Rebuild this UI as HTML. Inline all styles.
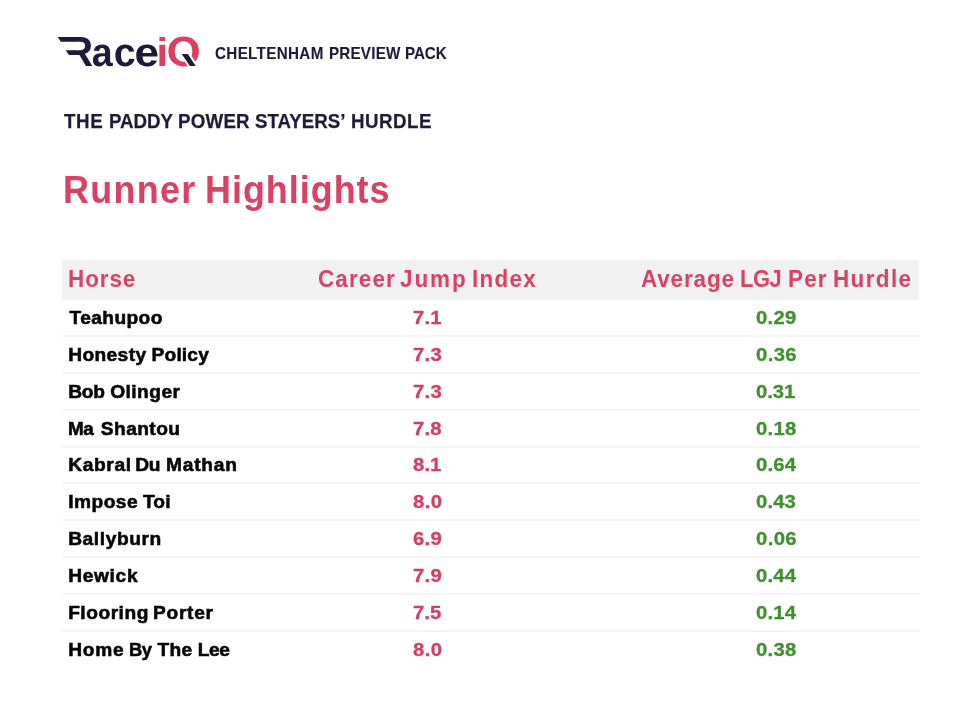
<!DOCTYPE html>
<html lang="en"><head><meta charset="utf-8"><title>RaceiQ Cheltenham Preview Pack</title>
<style>
*{margin:0;padding:0;box-sizing:border-box}
html,body{width:954px;height:718px;background:#fff;overflow:hidden}
body{font-family:"Liberation Sans",sans-serif;position:relative;color:#1e1b3a}
.abs{position:absolute;left:0;white-space:nowrap;line-height:1;margin:0}
.abs span{position:absolute;top:0;transform-origin:0 0}
.logo{position:absolute;left:50px;top:30px;width:160px;height:40px;overflow:visible}
.logo text{text-rendering:geometricPrecision;font-family:"Liberation Sans",sans-serif;font-weight:700;font-size:40px}
.t1{font-weight:700;font-size:17.1px;color:#1e1b3a;-webkit-text-stroke:0.12px #1e1b3a}
.t1 span{transform:scaleX(0.89);}
.t2{font-weight:700;font-size:21.05px;color:#1e1b3a;-webkit-text-stroke:0.25px #1e1b3a}
.t2 span{transform:scaleX(0.89);}
.t3{font-weight:700;font-size:39px;color:#d94263}
.t3 span{transform:scaleX(0.92);}
.hdr{position:absolute;left:62px;top:260px;width:856.5px;height:39.7px;background:#f1f1f1}
.th{font-weight:700;font-size:24.4px;color:#d94263}
.th span{transform:scaleX(0.92);}
.row{position:absolute;left:62px;width:858px;height:2px;background:#f4f4f4}
.nm{font-weight:700;font-size:19.15px;color:#050505;-webkit-text-stroke:0.6px #050505}
.v1{font-weight:700;font-size:19.15px;color:#d33f61;-webkit-text-stroke:0.3px #d33f61}
.v2{font-weight:700;font-size:19.15px;color:#409030;-webkit-text-stroke:0.3px #409030}
.v1 span,.v2 span{transform:scaleX(1.06);}
</style></head>
<body>
<svg class="logo" viewBox="50 30 160 40" role="img" aria-label="RaceiQ">
  <title>RaceiQ</title>
  <defs>
    <clipPath id="rclip"><rect x="74" y="30" width="30" height="40"/></clipPath>
    <clipPath id="qclip"><ellipse cx="183.7" cy="51.3" rx="15.7" ry="15.3"/></clipPath>
  </defs>
  <polygon points="57.7,37 75,37 75,41.75 60.7,41.75" fill="#1e1b3a"/>
  <polygon points="65.7,50.3 75,50.3 75,55.05 68.9,55.05" fill="#1e1b3a"/>
  <g clip-path="url(#rclip)"><text transform="translate(64.2,66) scale(1,1.0545)" fill="#1e1b3a">R</text></g>
  <text transform="translate(91.82,65.6) scale(0.941,1)" fill="#1e1b3a">a</text>
  <text transform="translate(113.82,65.6) scale(0.985,1)" fill="#1e1b3a">c</text>
  <text transform="translate(134.55,65.6) scale(1.101,1)" fill="#1e1b3a">e</text>
  <text transform="translate(156.45,65.6) scale(1.036,1)" fill="#de3f5f">i</text>
  <g clip-path="url(#qclip)"><text transform="translate(166.6,65.6) scale(1.1,1.058)" fill="#de3f5f">Q</text></g>
  <polygon points="178.4,52 188.9,52 199.5,68 189,68" fill="#fff"/>
  <polygon points="181.7,54 187.8,54 195.7,65.9 189.9,65.9" fill="#1e1b3a"/>
</svg>
<div class="abs t1" style="top:44.50px"><span style="left:215.14px;letter-spacing:0.372px">CHELTENHAM</span> <span style="left:328.98px;letter-spacing:0.221px">PREVIEW</span> <span style="left:404.98px;letter-spacing:-0.102px">PACK</span></div>
<h2 class="abs t2" style="top:110.30px"><span style="left:63.88px;letter-spacing:0.727px">THE</span> <span style="left:108.84px;letter-spacing:-0.066px">PADDY</span> <span style="left:177.82px;letter-spacing:0.247px">POWER</span> <span style="left:254.99px;letter-spacing:-0.009px">STAYERS’</span> <span style="left:350.82px;letter-spacing:0.557px">HURDLE</span></h2>
<h1 class="abs t3" style="top:170.31px"><span style="left:62.96px;letter-spacing:1.427px">Runner</span> <span style="left:204.72px;letter-spacing:1.100px">Highlights</span></h1>
<div class="table" role="table">
<div class="thead" role="row"><div class="hdr"></div>
<div class="abs th" style="top:267.21px"><span style="left:67.85px;letter-spacing:1.014px">Horse</span></div>
<div class="abs th" style="top:267.21px"><span style="left:317.98px;letter-spacing:1.237px">Career</span> <span style="left:399.94px;letter-spacing:2.119px">Jump</span> <span style="left:471.87px;letter-spacing:1.420px">Index</span></div>
<div class="abs th" style="top:267.21px"><span style="left:640.65px;letter-spacing:0.944px">Average</span> <span style="left:739.70px;letter-spacing:-0.500px;transform:scaleX(0.8982)">LGJ</span> <span style="left:787.69px;letter-spacing:1.302px">Per</span> <span style="left:832.69px;letter-spacing:1.527px">Hurdle</span></div>
</div>
<div class="tr" role="row">
<div class="abs nm" style="top:308.00px"><span style="left:69.48px;letter-spacing:0.415px">Teahupoo</span></div>
<div class="abs v1" style="top:308.00px"><span style="left:412.71px;letter-spacing:0.189px">7.1</span></div>
<div class="abs v2" style="top:308.00px"><span style="left:755.73px;letter-spacing:0.280px">0.29</span></div>
<div class="row" style="top:335.00px"></div>
</div>
<div class="tr" role="row">
<div class="abs nm" style="top:345.00px"><span style="left:68.17px;letter-spacing:0.404px">Honesty</span> <span style="left:151.62px;letter-spacing:0.156px">Policy</span></div>
<div class="abs v1" style="top:345.00px"><span style="left:412.71px;letter-spacing:0.290px">7.3</span></div>
<div class="abs v2" style="top:345.00px"><span style="left:755.73px;letter-spacing:0.367px">0.36</span></div>
<div class="row" style="top:371.85px"></div>
</div>
<div class="tr" role="row">
<div class="abs nm" style="top:382.00px"><span style="left:68.17px;letter-spacing:-0.249px">Bob</span> <span style="left:110.20px;letter-spacing:0.457px">Olinger</span></div>
<div class="abs v1" style="top:382.00px"><span style="left:412.71px;letter-spacing:0.290px">7.3</span></div>
<div class="abs v2" style="top:382.00px"><span style="left:755.55px;letter-spacing:-0.050px">0.31</span></div>
<div class="row" style="top:408.70px"></div>
</div>
<div class="tr" role="row">
<div class="abs nm" style="top:419.00px"><span style="left:67.74px;letter-spacing:-0.500px;transform:scaleX(0.9856)">Ma</span> <span style="left:100.80px;letter-spacing:0.437px">Shantou</span></div>
<div class="abs v1" style="top:419.00px"><span style="left:412.71px;letter-spacing:0.165px">7.8</span></div>
<div class="abs v2" style="top:419.00px"><span style="left:755.73px;letter-spacing:0.228px">0.18</span></div>
<div class="row" style="top:445.55px"></div>
</div>
<div class="tr" role="row">
<div class="abs nm" style="top:455.00px"><span style="left:68.17px;letter-spacing:0.668px">Kabral</span> <span style="left:135.37px;letter-spacing:-0.500px">Du</span> <span style="left:166.00px;letter-spacing:0.800px">Mathan</span></div>
<div class="abs v1" style="top:455.00px"><span style="left:412.96px;letter-spacing:0.092px">8.1</span></div>
<div class="abs v2" style="top:455.00px"><span style="left:755.79px;letter-spacing:0.187px">0.64</span></div>
<div class="row" style="top:482.40px"></div>
</div>
<div class="tr" role="row">
<div class="abs nm" style="top:492.00px"><span style="left:68.20px;letter-spacing:0.491px">Impose</span> <span style="left:142.92px;letter-spacing:0.196px">Toi</span></div>
<div class="abs v1" style="top:492.00px"><span style="left:412.60px;letter-spacing:0.364px">8.0</span></div>
<div class="abs v2" style="top:492.00px"><span style="left:755.87px;letter-spacing:0.109px">0.43</span></div>
<div class="row" style="top:519.25px"></div>
</div>
<div class="tr" role="row">
<div class="abs nm" style="top:529.00px"><span style="left:68.17px;letter-spacing:0.602px">Ballyburn</span></div>
<div class="abs v1" style="top:529.00px"><span style="left:412.87px;letter-spacing:0.218px">6.9</span></div>
<div class="abs v2" style="top:529.00px"><span style="left:755.73px;letter-spacing:0.367px">0.06</span></div>
<div class="row" style="top:556.10px"></div>
</div>
<div class="tr" role="row">
<div class="abs nm" style="top:566.00px"><span style="left:68.17px;letter-spacing:0.688px">Hewick</span></div>
<div class="abs v1" style="top:566.00px"><span style="left:412.71px;letter-spacing:0.248px">7.9</span></div>
<div class="abs v2" style="top:566.00px"><span style="left:755.79px;letter-spacing:0.187px">0.44</span></div>
<div class="row" style="top:592.95px"></div>
</div>
<div class="tr" role="row">
<div class="abs nm" style="top:603.00px"><span style="left:68.17px;letter-spacing:0.523px">Flooring</span> <span style="left:153.00px;letter-spacing:0.720px">Porter</span></div>
<div class="abs v1" style="top:603.00px"><span style="left:412.71px;letter-spacing:0.077px">7.5</span></div>
<div class="abs v2" style="top:603.00px"><span style="left:755.79px;letter-spacing:0.187px">0.14</span></div>
<div class="row" style="top:629.80px"></div>
</div>
<div class="tr" role="row">
<div class="abs nm" style="top:640.00px"><span style="left:68.17px;letter-spacing:0.746px">Home</span> <span style="left:128.74px;letter-spacing:-0.500px;transform:scaleX(0.9575)">By</span> <span style="left:157.53px;letter-spacing:0.259px">The</span> <span style="left:197.67px;letter-spacing:-0.420px">Lee</span></div>
<div class="abs v1" style="top:640.00px"><span style="left:412.60px;letter-spacing:0.364px">8.0</span></div>
<div class="abs v2" style="top:640.00px"><span style="left:755.73px;letter-spacing:0.228px">0.38</span></div>
</div>
</div>
</body></html>
